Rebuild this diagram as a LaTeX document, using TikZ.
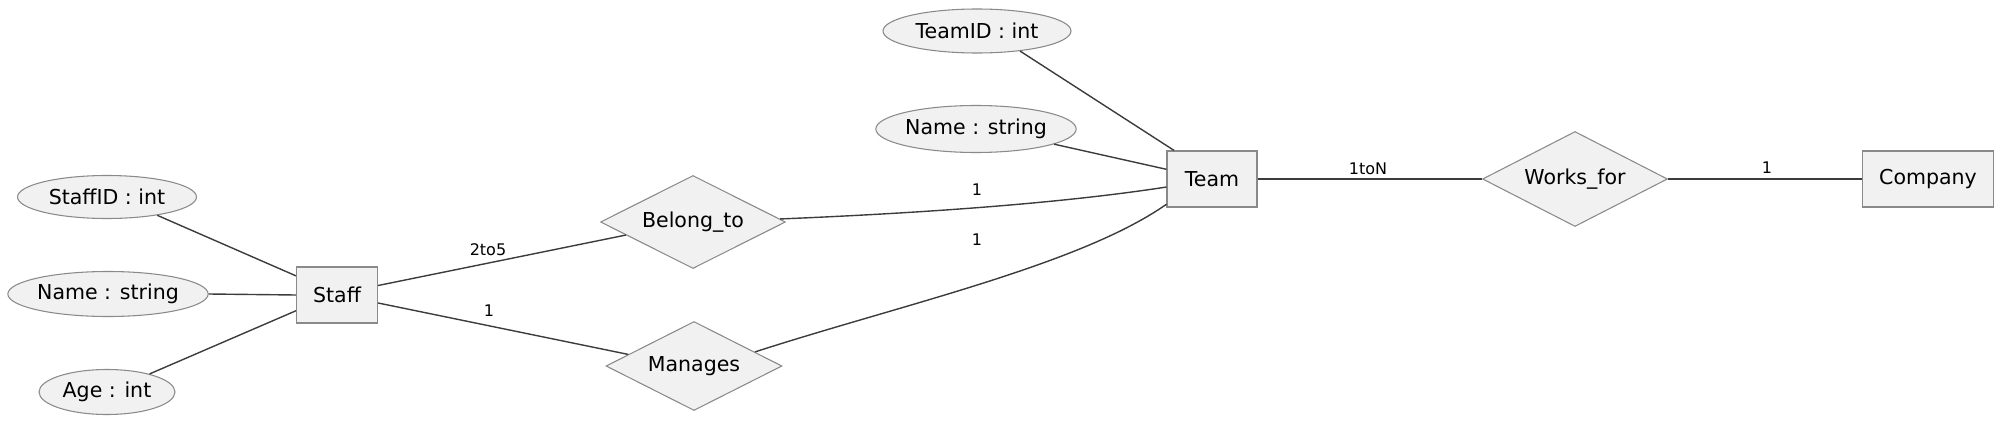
\documentclass[tikz,border=0pt]{standalone}
\usepackage{fontspec}
\setmainfont{DejaVu Sans}
\usetikzlibrary{shapes.geometric}
\definecolor{shapefill}{HTML}{F1F1F1}
\definecolor{shapeline}{HTML}{8A8A8A}
\definecolor{edgeline}{HTML}{3C3C3C}
\def\pxu{0.75pt}
\tikzset{
  base/.style={draw=shapeline, fill=shapefill, line width=0.8pt, inner sep=0pt,
    font=\fontsize{15.4}{18}\selectfont, text=black},
  attr/.style={base, ellipse},
  entity/.style={base, rectangle},
  rel/.style={base, diamond, aspect=2},
  edge/.style={draw=edgeline, line width=1.05pt},
  lab/.style={inner sep=0pt, font=\fontsize{12}{14}\selectfont, text=black},
}
\begin{document}
\begin{tikzpicture}[x=0.75pt, y=-0.75pt]
\useasboundingbox (0,0) rectangle (2000,421);
% attributes
\node[attr, minimum width=179*\pxu, minimum height=43*\pxu] (sid) at (107,197) {StaffID : int};
\node[attr, minimum width=199*\pxu, minimum height=45*\pxu] (sname) at (108,294) {Name : string};
\node[attr, minimum width=136*\pxu, minimum height=45*\pxu] (sage) at (107,392) {Age : int};
\node[attr, minimum width=188*\pxu, minimum height=44*\pxu] (tid) at (977,31) {TeamID : int};
\node[attr, minimum width=198*\pxu, minimum height=47*\pxu] (tname) at (976,129) {Name : string};
% entities
\node[entity, minimum width=81*\pxu, minimum height=56*\pxu] (staff) at (337,295) {Staff};
\node[entity, minimum width=90*\pxu, minimum height=56*\pxu] (team) at (1212,179) {Team};
\node[entity, minimum width=131*\pxu, minimum height=56*\pxu] (company) at (1928,179) {Company};
% relationships
\node[rel, minimum width=185*\pxu, minimum height=93*\pxu] (belong) at (693,222) {Belong\_to};
\node[rel, minimum width=176*\pxu, minimum height=89*\pxu] (manages) at (694,366) {Manages};
\node[rel, minimum width=185*\pxu, minimum height=95*\pxu] (works) at (1575,179) {Works\_for};
% connectors
\draw[edge] (sid.-20) -- (staff.155);
\draw[edge] (sname.east) -- (staff.west);
\draw[edge] (sage.23) -- (staff.201);
\draw[edge] (staff.13) -- (belong.191);
\draw[edge] (staff.-11) -- (manages.170);
\draw[edge] (belong.2) .. controls (900,214) and (1050,205) .. (team.190);
\draw[edge] (manages.13) .. controls (900,305) and (1080,265) .. (team.209);
\draw[edge] (tid.-25) -- (team.143);
\draw[edge] (tname.-11) -- (team.168);
\draw[edge] (team.east) -- (works.west);
\draw[edge] (works.east) -- (company.west);
% labels
\node[lab] (l2to5) at (488,250) {2to5};
\node[lab] (lman) at (489,311) {1};
\node[lab] (lbt) at (977,190) {1};
\node[lab] (lmt) at (977,240) {1};
\node[lab] (l1ton) at (1368,169) {1toN};
\node[lab] (lcomp) at (1767,168) {1};
\end{tikzpicture}
\end{document}
